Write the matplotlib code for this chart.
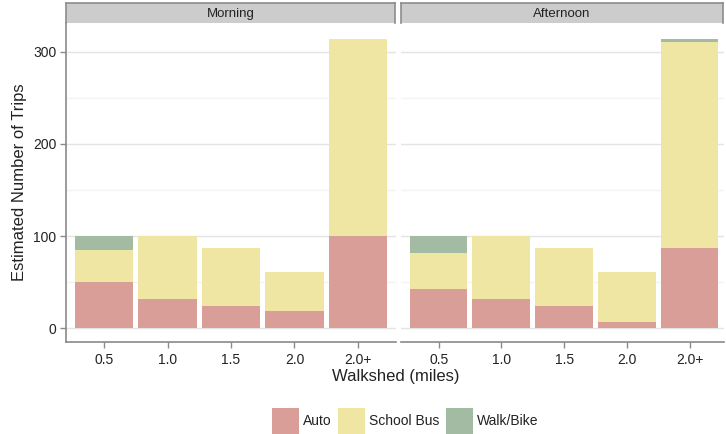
import matplotlib
matplotlib.use("Agg")
import matplotlib.pyplot as plt
import numpy as np
from matplotlib.patches import Patch, Rectangle

plt.rcParams['font.family'] = ['Liberation Sans', 'DejaVu Sans']

categories = ["0.5", "1.0", "1.5", "2.0", "2.0+"]
panels = ["Morning", "Afternoon"]
modes = ["Auto", "School Bus", "Walk/Bike"]
colors = ["#D99E97", "#F0E6A3", "#A4BBA3"]

morning_auto = [50, 32, 24, 18, 100]
morning_bus = [35, 68, 63, 43, 214]
morning_walk = [15, 0, 0, 0, 0]

afternoon_auto = [42, 31, 24, 6, 87]
afternoon_bus = [40, 69, 63, 55, 224]
afternoon_walk = [18, 0, 0, 0, 3]

data = {
    "Morning": [morning_auto, morning_bus, morning_walk],
    "Afternoon": [afternoon_auto, afternoon_bus, afternoon_walk],
}

W, H = 726, 434
fig = plt.figure(figsize=(W / 100, H / 100), dpi=100)

def px_axes(x0, y0, x1, y1):
    return fig.add_axes([x0 / W, 1 - y1 / H, (x1 - x0) / W, (y1 - y0) / H])

txt = "#222222"
panel_px = [(66, 396), (401, 724)]
for i, (name, (x0, x1)) in enumerate(zip(panels, panel_px)):
    ax = px_axes(x0, 23, x1, 342)
    x = np.arange(len(categories))
    bottom = np.zeros(len(categories))
    for vals, c, lab in zip(data[name], colors, modes):
        ax.bar(x, vals, bottom=bottom, width=0.92, color=c, edgecolor="none",
               label=lab, zorder=2)
        bottom += np.array(vals)
    ax.set_ylim(-15.2, 331.5)
    ax.set_xlim(-0.6, 4.6 if i == 0 else 4.55)
    ax.set_yticks([0, 100, 200, 300])
    ax.set_yticks([50, 150, 250], minor=True)
    ax.grid(axis="y", which="major", color="#E4E4E4", linewidth=1.0, zorder=0)
    ax.grid(axis="y", which="minor", color="#F3F3F3", linewidth=1.0, zorder=0)
    ax.set_axisbelow(True)
    ax.set_xticks(x)
    ax.set_xticklabels(categories, fontsize=10, color=txt)
    for s in ["top", "right"]:
        ax.spines[s].set_visible(False)
    ax.spines["bottom"].set_color("#8A8A8A")
    ax.spines["bottom"].set_linewidth(1.2)
    ax.tick_params(axis="x", colors="#8A8A8A", labelcolor=txt, length=4, width=1.0, pad=4)
    if i == 0:
        ax.spines["left"].set_color("#8A8A8A")
        ax.spines["left"].set_linewidth(1.2)
        ax.tick_params(axis="y", which="major", colors="#8A8A8A", labelcolor=txt,
                       labelsize=10, length=4, width=1.0, pad=3)
        ax.tick_params(axis="y", which="minor", length=0)
        ax.set_ylabel("Estimated Number of Trips", fontsize=12, color=txt, labelpad=4)
    else:
        ax.spines["left"].set_visible(False)
        ax.tick_params(axis="y", which="both", left=False, labelleft=False)
    # strip
    sax = px_axes(x0, 3, x1 - 1, 23)
    sax.set_xticks([]); sax.set_yticks([])
    sax.set_facecolor("#CCCCCC")
    for s in sax.spines.values():
        s.set_color("#8C8C8C")
        s.set_linewidth(1.2)
    sax.spines["bottom"].set_visible(False)
    sax.text(0.5, 0.45, name, ha="center", va="center", fontsize=9.5, color=txt,
             transform=sax.transAxes)

fig.text(396 / W, 1 - 376 / H, "Walkshed (miles)", ha="center", va="center",
         fontsize=12, color=txt)

handles = [Patch(facecolor=c, edgecolor="none", label=m) for c, m in zip(colors, modes)]
fig.legend(handles=handles, loc="center", bbox_to_anchor=(405 / W, 1 - 421 / H),
           ncol=3, frameon=False, fontsize=10, handlelength=1.95, handleheight=2.4,
           handletextpad=0.3, columnspacing=0.45, labelcolor=txt)

fig.savefig("out.png", dpi=100)
